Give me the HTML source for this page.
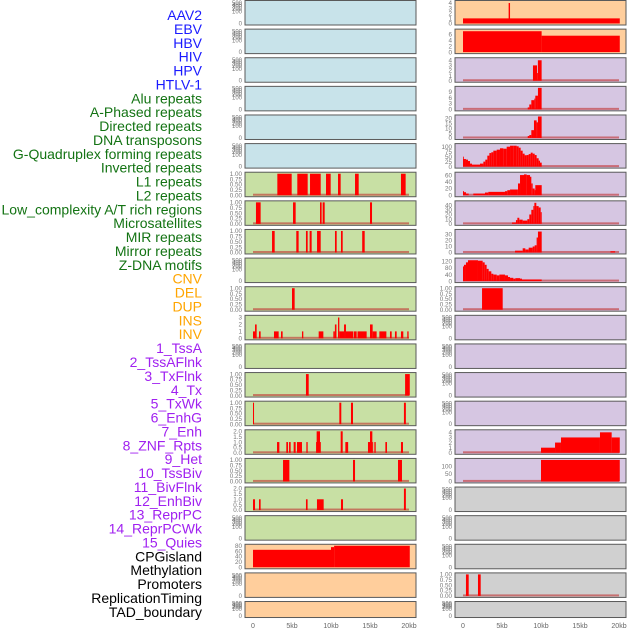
<!DOCTYPE html>
<html><head><meta charset="utf-8"><style>
html,body{margin:0;padding:0;background:#fff;width:630px;height:630px;overflow:hidden}
svg{display:block;font-family:"Liberation Sans",sans-serif}
</style></head><body>
<svg id="chart" width="630" height="630" viewBox="0 0 630 630"></svg>
<script>
const trackLabels=["AAV2","EBV","HBV","HIV","HPV","HTLV-1","Alu repeats","A-Phased repeats","Directed repeats","DNA transposons","G-Quadruplex forming repeats","Inverted repeats","L1 repeats","L2 repeats","Low_complexity A/T rich regions","Microsatellites","MIR repeats","Mirror repeats","Z-DNA motifs","CNV","DEL","DUP","INS","INV","1_TssA","2_TssAFlnk","3_TxFlnk","4_Tx","5_TxWk","6_EnhG","7_Enh","8_ZNF_Rpts","9_Het","10_TssBiv","11_BivFlnk","12_EnhBiv","13_ReprPC","14_ReprPCWk","15_Quies","CPGisland","Methylation","Promoters","ReplicationTiming","TAD_boundary"];
const labelGroups=[6,13,5,15,5];
const groupColors=["#1a1aff","#137313","#ffa500","#a020f0","#000000"];
const xTickValues=[0,5,10,15,20];
const xTickLabels=["0","5kb","10kb","15kb","20kb"];
// bars: [startKb,endKb,value]
const left7=[[3.12,4.96,1],[5.68,7.01,1],[7.31,8.68,1],[9.36,9.96,1],[10.9,11.24,1],[13.08,13.55,1],[18.97,19.57,1]];
const left8=[[0.38,0.98,1],[5.13,5.47,1],[8.59,8.8,1],[8.93,9.19,1],[15.0,15.26,1]];
const left9=[[2.44,2.78,1],[5.55,5.85,1],[6.79,7.01,1],[7.26,7.52,1],[8.21,8.68,1],[10.51,10.73,1],[11.28,11.5,1],[14.0,14.32,1]];
const left11=[[5.0,5.34,1]];
const left12=[[0,0.26,1],[0.26,0.47,2],[0.77,0.98,1],[2.69,3.29,1],[3.59,3.8,1],[6.28,6.45,1],[8.42,9.02,1],[10.3,10.5,1],[10.5,10.7,2],[10.9,11.07,3],[11.07,11.67,1],[11.67,11.92,2],[11.92,12.86,1],[12.94,13.29,1],[13.4,14.57,1],[15.0,15.34,2],[15.34,15.85,1],[16.2,17.1,1],[17.56,17.78,1],[18.2,18.42,1],[18.97,19.27,1],[19.78,19.95,1]];
const left14=[[6.79,7.14,1],[19.5,20.1,1]];
const left15=[[0,0.13,1],[11.07,11.32,1],[12.56,12.82,1],[19.35,19.6,1]];
const left16=[[3.08,3.38,1],[4.27,4.49,1],[4.62,4.83,1],[5.21,5.47,1],[5.64,6.28,1],[6.84,7.01,1],[8.08,8.16,1],[8.16,8.59,2],[8.59,8.68,1],[11.24,11.5,2],[11.84,12.2,1],[14.74,15.0,1],[15.0,15.3,2],[15.3,15.4,1],[15.56,15.73,1],[16.97,17.18,1],[18.97,19.23,1]];
const left17=[[3.85,4.66,1],[12.82,13.08,1],[18.59,19.1,1]];
const left18=[[0,0.26,1],[0.77,0.98,1],[6.79,7.0,1],[8.2,9.06,1],[11.28,11.54,1],[19.35,19.6,2]];
const left20=[[0,10.0,65],[10.0,10.4,75],[10.4,20.1,80]];
const right1=[[0,20.1,1],[5.85,6.03,4]];
const right2=[[0,10.08,7],[10.08,20.1,5.5]];
const right3=[[8.97,9.49,3],[9.49,9.6,1.5],[9.6,10.08,4]];
const right4=[[8.3,8.5,1],[8.5,8.76,2.5],[8.76,9.15,4.7],[9.15,9.27,5.5],[9.27,9.61,7],[9.61,10.08,11]];
const right5=[[8.3,8.5,2],[8.5,8.76,3],[8.76,9.1,8],[9.1,9.44,18],[9.44,9.61,16],[9.61,10.08,22]];
const right6X=[0,0.04,0.38,0.64,0.9,1.15,1.67,2.18,2.44,2.61,2.86,3.12,3.38,3.63,3.89,4.32,4.74,5.17,5.6,6.03,6.45,6.88,7.14,7.39,7.65,7.9,8.16,8.42,8.68,8.93,9.19,9.44,9.7,9.87,10.09];
const right6V=[50,38,35,28,15,10,10,15,15,25,35,55,68,72,80,85,92,90,100,105,105,102,95,80,65,57,58,63,70,65,58,42,30,20];
const right7X=[0,0.13,0.38,0.73,1.32,2.82,3.25,5.38,5.68,6.03,6.97,7.05,7.31,7.82,8.16,8.59,8.76,8.93,9.19,9.27,10.09];
const right7V=[12,9,5,0,5,8,10,12,15,17,17,35,60,62,60,55,35,20,15,30];
const right8X=[6.28,6.79,6.97,7.22,7.65,8.25,8.5,8.76,9.02,9.15,9.4,9.7,9.96,10.09];
const right8V=[3,8,13,9,7,10,20,30,38,45,38,35,25];
const right9X=[6.67,7.65,7.99,8.42,8.93,9.19,9.44,9.61,10.09];
const right9V=[3,7,5,8,10,12,25,35];
const right9Extra=[[18.9,19.5,2]];
const right10X=[0,0.13,0.38,0.64,1.92,2.52,2.78,3.03,3.29,3.63,3.89,4.32,4.66,5.38,5.77,6.03,6.45,6.71,7.31,7.56,10.09];
const right10V=[90,100,115,128,125,115,100,75,60,45,40,35,40,35,25,20,15,18,15,10];
const right11=[[2.44,5.09,1]];
const right16=[[10.0,11.8,1],[11.8,12.56,2],[12.56,17.56,3],[17.56,19.06,4],[19.06,20.1,3]];
const right17=[[10.0,20.1,140]];
const right21=[[0.38,0.73,1],[1.92,2.27,1]];

function steps(xs,vs){const o=[];for(let i=0;i<vs.length;i++)o.push([xs[i],xs[i+1],vs[i]]);return o;}
const T1=[0,0.25,0.5,0.75,1.0];
const panels=[
[0,0,"blue"],[0,1,"blue"],[0,2,"blue"],[0,3,"blue"],[0,4,"blue"],[0,5,"blue"],
[0,6,"green",1.0,T1,left7,1],[0,7,"green",1.0,T1,left8,1],[0,8,"green",1.0,T1,left9,1],[0,9,"green"],
[0,10,"green",1.0,T1,left11,1],[0,11,"green",3.1,[0,1,2,3],left12,1],[0,12,"green"],
[0,13,"green",1.0,T1,left14,1],[0,14,"green",1.0,T1,left15,1],[0,15,"green",2.0,[0,0.5,1.0,1.5,2.0],left16,1],
[0,16,"green",1.0,T1,left17,1],[0,17,"green",2.0,[0,0.5,1.0,1.5,2.0],left18,1],[0,18,"green"],
[0,19,"orange",80,[0,20,40,60,80],left20,0],[0,20,"orange"],[0,21,"orange"],
[1,0,"orange",4.2,[0,1,2,3,4],right1,0],[1,1,"orange",7.2,[0,2,4,6],right2,0],
[1,2,"purple",4.2,[0,1,2,3,4],right3,1],[1,3,"purple",11,[0,3,6,9],right4,1],
[1,4,"purple",22,[0,5,10,15,20],right5,1],[1,5,"purple",108,[0,25,50,75,100],steps(right6X,right6V),1],
[1,6,"purple",64,[0,20,40,60],steps(right7X,right7V),1],[1,7,"purple",46,[0,10,20,30,40],steps(right8X,right8V),1],
[1,8,"purple",36,[0,10,20,30],steps(right9X,right9V).concat(right9Extra),1],[1,9,"purple",132,[0,40,80,120],steps(right10X,right10V),1],
[1,10,"purple",1.0,T1,right11,1],[1,11,"purple"],[1,12,"purple"],[1,13,"purple"],[1,14,"purple"],
[1,15,"purple",4.2,[0,1,2,3,4],right16,1],[1,16,"purple",140,[0,50,100],right17,1],
[1,17,"grey"],[1,18,"grey"],[1,19,"grey"],[1,20,"grey",1.0,T1,right21,1],[1,21,"grey"]
];
const bgColors={blue:"#c8e3ea",green:"#c8e0a4",orange:"#ffce9c",purple:"#d6c6e2",grey:"#d0d0d0"};
const NS="http://www.w3.org/2000/svg";
const svg=document.getElementById("chart");
function mk(tag,attrs,parent){const e=document.createElementNS(NS,tag);for(const k in attrs)e.setAttribute(k,attrs[k]);(parent||svg).appendChild(e);return e;}
function xScale(col,kb){return (col?463:253)+kb*7.8;}
function rowTop(r){return r*28.62+0.5;}
function rowH(r){return r===21?16:24.5;}

let li=0;
labelGroups.forEach((n,g)=>{for(let k=0;k<n;k++){const t=mk("text",{x:202,y:20+li*13.88,"text-anchor":"end","font-size":"14",fill:groupColors[g]});


t.textContent=trackLabels[li];li++;}});

panels.forEach(p=>{
  const [col,row,bg,ymax,ticks,bars,base]=p;
  const top=rowTop(row),h=rowH(row),x0=col?455:245,w=171;
  const g=mk("g",{});
  
  
  mk("rect",{x:x0,y:top,width:w,height:h,fill:bgColors[bg],stroke:"#5a5a5a","stroke-width":1},g);
  const bot=top+h-1.5,span=h-3;
  const yS=v=>bot-v/ymax*span;
  const tx=x0-3;
  if(!ymax){
    const tv=[0,100,200,300,400,500],fr=[0.0,0.55,0.68,0.78,0.87,0.96];
    tv.forEach((v,i)=>{const t=mk("text",{x:tx,y:bot-fr[i]*span+2,"text-anchor":"end","font-size":"6",fill:"#777"},g);t.textContent=v;});
  } else {
    const dec=ymax<=1.01?2:(ymax<=2.01?1:0);
    ticks.forEach(v=>{const t=mk("text",{x:tx,y:yS(v)+2.2,"text-anchor":"end","font-size":"6.3",fill:"#777"},g);t.textContent=v.toFixed(dec);});
    if(base){const bl=mk("rect",{x:xScale(col,0),y:bot-1.5,width:xScale(col,20)-xScale(col,0),height:2,fill:"#c03030",opacity:0.6},g);
      
      }
    bars.forEach(b=>{const y=yS(b[2]);const r=mk("rect",{x:xScale(col,b[0]),y:y,width:Math.max(0.8,xScale(col,b[1])-xScale(col,b[0])),height:bot-y,fill:"#ff0000"},g);
      
      });
  }
});
[0,1].forEach(col=>{xTickValues.forEach((v,i)=>{const t=mk("text",{x:xScale(col,v),y:628,"text-anchor":"middle","font-size":"7",fill:"#666"});
  
  
  t.textContent=xTickLabels[i];});});
</script>
</body></html>
